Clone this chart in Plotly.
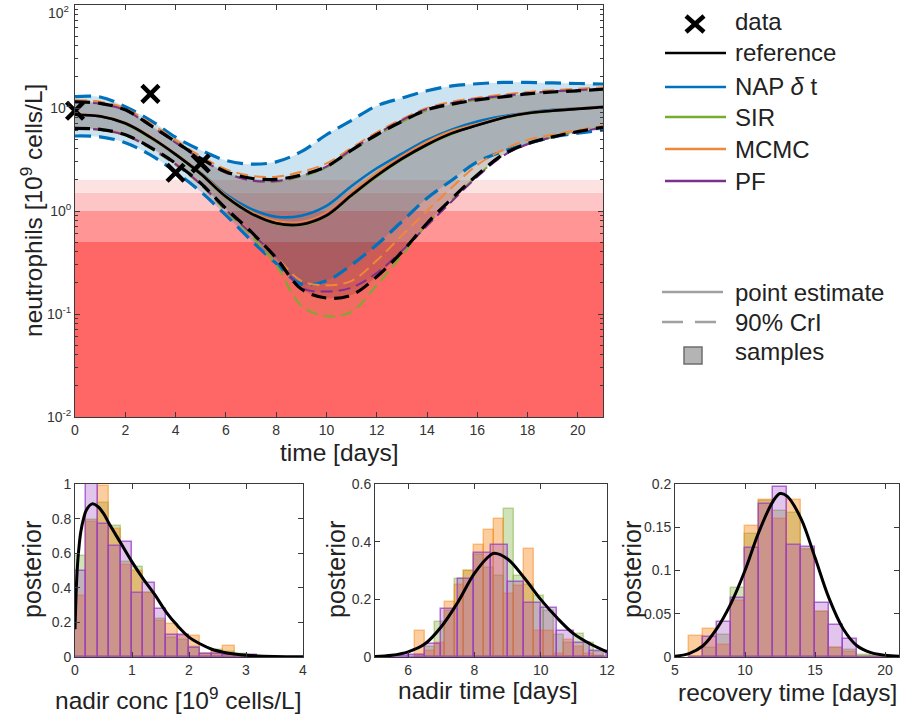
import plotly.graph_objects as go

# ---------------- data ----------------
t_days = list(range(22))
data_t = [0, 3, 4, 5]
data_y = [9.4, 13.7, 2.35, 2.9]

ref_med = [8.6, 8.3, 7.1, 5.2, 3.55, 2.3, 1.38, 0.95, 0.76, 0.74, 0.90, 1.42, 2.2, 3.2, 4.4, 5.7, 6.8, 8.0, 8.9, 9.4, 9.8, 10.2]
ref_lo = [6.35, 6.2, 5.5, 4.15, 2.9, 1.86, 1.06, 0.63, 0.35, 0.175, 0.143, 0.153, 0.23, 0.40, 0.76, 1.33, 2.24, 3.5, 4.5, 5.25, 5.9, 6.5]
ref_hi = [11.5, 11.1, 9.6, 6.8, 4.7, 3.25, 2.41, 2.08, 2.03, 2.24, 2.7, 3.9, 5.5, 7.4, 9.6, 10.9, 12.0, 12.8, 13.7, 14.3, 14.7, 15.2]

nap_med = [8.6, 8.3, 7.1, 5.2, 3.55, 2.35, 1.45, 1.05, 0.88, 0.90, 1.12, 1.75, 2.6, 3.6, 4.9, 6.2, 7.4, 8.3, 9.0, 9.6, 9.9, 10.3]
nap_lo = [5.35, 5.25, 4.6, 3.5, 2.4, 1.54, 0.91, 0.52, 0.31, 0.195, 0.21, 0.30, 0.47, 0.79, 1.33, 2.0, 3.0, 3.77, 4.5, 5.2, 5.7, 6.1]
nap_hi = [12.9, 12.8, 10.3, 7.6, 5.2, 3.9, 3.1, 2.85, 3.0, 3.77, 5.5, 7.6, 10.5, 12.5, 14.7, 16.4, 17.2, 17.7, 17.7, 17.5, 17.3, 17.1]

sir_med = [8.6, 8.3, 7.0, 5.1, 3.5, 2.25, 1.35, 0.93, 0.75, 0.73, 0.89, 1.4, 2.15, 3.15, 4.35, 5.6, 6.8, 7.9, 8.8, 9.3, 9.8, 10.1]
sir_lo = [6.3, 6.1, 5.4, 4.05, 2.8, 1.8, 1.0, 0.58, 0.30, 0.12, 0.095, 0.105, 0.19, 0.37, 0.74, 1.3, 2.2, 3.45, 4.5, 5.2, 5.9, 6.5]
sir_hi = [11.6, 11.2, 9.6, 6.8, 4.7, 3.2, 2.35, 1.98, 1.93, 2.15, 2.65, 3.85, 5.4, 7.3, 9.5, 10.9, 12.0, 12.9, 13.8, 14.4, 14.8, 15.3]

mcmc_med = [8.7, 8.4, 7.2, 5.3, 3.6, 2.35, 1.42, 0.98, 0.8, 0.78, 0.96, 1.52, 2.35, 3.4, 4.7, 6.0, 7.0, 8.1, 9.0, 9.5, 9.9, 10.3]
mcmc_lo = [6.4, 6.2, 5.5, 4.1, 2.9, 1.85, 1.05, 0.62, 0.36, 0.21, 0.19, 0.21, 0.33, 0.58, 1.0, 1.7, 2.8, 3.9, 4.9, 5.5, 6.1, 6.7]
mcmc_hi = [11.9, 11.5, 9.9, 7.1, 4.9, 3.4, 2.55, 2.2, 2.15, 2.4, 2.9, 4.1, 5.8, 7.8, 10.0, 11.5, 12.6, 13.5, 14.3, 14.9, 15.4, 15.8]

pf_med = [8.6, 8.3, 7.1, 5.2, 3.55, 2.28, 1.37, 0.94, 0.76, 0.75, 0.92, 1.45, 2.22, 3.25, 4.45, 5.7, 6.8, 8.0, 8.9, 9.4, 9.8, 10.2]
pf_lo = [6.3, 6.15, 5.45, 4.1, 2.85, 1.82, 1.03, 0.61, 0.36, 0.18, 0.165, 0.18, 0.25, 0.41, 0.72, 1.25, 2.15, 3.4, 4.45, 5.2, 5.85, 6.45]
pf_hi = [11.4, 11.0, 9.5, 6.7, 4.6, 3.2, 2.35, 1.98, 1.95, 2.2, 2.7, 3.95, 5.6, 7.6, 9.8, 11.2, 12.3, 13.1, 13.9, 14.5, 14.9, 15.4]

# neutropenia grade thresholds [10^9 cells/L]
grade_edges = [0.01, 0.5, 1.0, 1.5, 2.0]

main_yticks = [0.01, 0.1, 1, 10, 100]
main_yticktext = ['10<sup>-2</sup>', '10<sup>-1</sup>', '10<sup>0</sup>', '10<sup>1</sup>', '10<sup>2</sup>']

# histogram panel 1: nadir concentration (bins of 0.2 from 0)
h1_start, h1_w = 0.0, 0.2
sir1 = [0.584, 0.79, 0.89, 0.76, 0.55, 0.52, 0.37, 0.22, 0.11, 0.10, 0.06, 0.02, 0.04, 0.03, 0.02, 0.005]
mcmc1 = [0.35, 0.78, 0.99, 0.74, 0.53, 0.50, 0.37, 0.21, 0.19, 0.12, 0.12, 0.02, 0.03, 0.064, 0.01, 0.005]
pf1 = [0.50, 1.0, 0.77, 0.64, 0.667, 0.37, 0.43, 0.28, 0.13, 0.13, 0.05, 0.02, 0.02, 0.01, 0.01, 0.01]
c1x = [0, 0.03, 0.06, 0.1, 0.15, 0.2, 0.3, 0.4, 0.5, 0.6, 0.8, 1.0, 1.2, 1.4, 1.6, 1.8, 2.0, 2.2, 2.4, 2.6, 2.8, 3.0, 3.5, 4.0]
c1y = [0.16, 0.45, 0.6, 0.72, 0.8, 0.85, 0.885, 0.87, 0.83, 0.77, 0.66, 0.55, 0.45, 0.36, 0.26, 0.18, 0.115, 0.075, 0.045, 0.028, 0.017, 0.01, 0.003, 0.001]

# histogram panel 2: nadir time
h2a_start, h2a_w = 6.2, 0.3   # SIR / MCMC bins
h2b_start, h2b_w = 5.5, 0.5   # PF bins
sir2 = [0.006, 0.035, 0.12, 0.16, 0.27, 0.30, 0.355, 0.31, 0.28, 0.515, 0.28, 0.25, 0.21, 0.16, 0.076, 0.047, 0.08, 0.047, 0.017]
mcmc2 = [0.09, 0.02, 0.05, 0.19, 0.25, 0.30, 0.39, 0.44, 0.48, 0.22, 0.245, 0.375, 0.09, 0.09, 0.01, 0.06, 0.035, 0.01, 0.005]
pf2 = [0.004, 0.006, 0.045, 0.165, 0.27, 0.36, 0.39, 0.26, 0.186, 0.17, 0.09, 0.05, 0.02]
c2x = [5, 5.5, 6, 6.5, 7, 7.5, 8, 8.5, 8.6, 9, 9.5, 10, 10.5, 11, 11.5, 12]
c2y = [0.002, 0.006, 0.018, 0.045, 0.105, 0.19, 0.29, 0.355, 0.36, 0.34, 0.275, 0.2, 0.135, 0.08, 0.045, 0.018]

# histogram panel 3: recovery time (bins of 1 from 6)
h3_start, h3_w = 6.0, 1.0
sir3 = [0.0, 0.01, 0.025, 0.08, 0.142, 0.18, 0.169, 0.167, 0.125, 0.052, 0.01, 0.008, 0.002, 0.001]
mcmc3 = [0.0245, 0.032, 0.014, 0.065, 0.151, 0.182, 0.159, 0.182, 0.124, 0.052, 0.01, 0.006, 0.0, 0.0]
pf3 = [0.0, 0.023, 0.04, 0.068, 0.126, 0.177, 0.197, 0.13, 0.127, 0.063, 0.037, 0.021, 0.0, 0.0]
c3x = [5, 6, 7, 8, 9, 10, 11, 12, 12.5, 13, 14, 15, 16, 17, 18, 19, 20, 21]
c3y = [0.001, 0.004, 0.013, 0.033, 0.062, 0.1, 0.145, 0.18, 0.189, 0.186, 0.16, 0.115, 0.068, 0.033, 0.013, 0.005, 0.002, 0.001]

# ---------------- style ----------------
W, H = 902, 721
FONT = 'Liberation Sans, Arial, Helvetica, sans-serif'
AX = '#3a3a3a'
BLUE = '#0072BD'
GREEN = '#77AC30'
ORANGE = '#F0883A'
PURPLE = '#7E2F8E'
grade_colors = ['#FF6666', '#FF9595', '#FDC5C5', '#FDE2E2']


def rgba(hexc, a):
    h = hexc.lstrip('#')
    return 'rgba(%d,%d,%d,%s)' % (int(h[0:2], 16), int(h[2:4], 16), int(h[4:6], 16), a)


def px(x):
    return x / W


def py(y):
    return 1 - y / H


fig = go.Figure()

# threshold bands
xlim = [0, 21]
for i, c in enumerate(grade_colors):
    lo, hi = grade_edges[i], grade_edges[i + 1]
    fig.add_trace(go.Scatter(x=[xlim[0], xlim[1], xlim[1], xlim[0], xlim[0]],
                             y=[lo, lo, hi, hi, lo], mode='lines', fill='toself',
                             fillcolor=c, line=dict(width=0), hoverinfo='skip',
                             showlegend=False, xaxis='x', yaxis='y'))

# name, median, lower, upper, colour, fill alpha, dash width, solid width, dash pattern
methods = [
    ('NAP', nap_med, nap_lo, nap_hi, BLUE, 0.2, 3.2, 2.6, '16px,8px'),
    ('SIR', sir_med, sir_lo, sir_hi, GREEN, 0.08, 2.0, 2.2, '12px,6px'),
    ('MCMC', mcmc_med, mcmc_lo, mcmc_hi, ORANGE, 0.08, 2.0, 2.2, '12px,6px'),
    ('PF', pf_med, pf_lo, pf_hi, PURPLE, 0.08, 2.0, 2.2, '12px,6px'),
    ('ref', ref_med, ref_lo, ref_hi, '#000000', 0.12, 3.2, 2.6, '15px,8px'),
]

# fills
for name, med, lo, hi, col, alpha, dw, sw, dp in methods:
    fig.add_trace(go.Scatter(x=t_days, y=lo, mode='lines', line=dict(width=0, shape='spline'),
                             hoverinfo='skip', showlegend=False, xaxis='x', yaxis='y'))
    fig.add_trace(go.Scatter(x=t_days, y=hi, mode='lines', line=dict(width=0, shape='spline'),
                             fill='tonexty', fillcolor=rgba(col, alpha),
                             hoverinfo='skip', showlegend=False, xaxis='x', yaxis='y'))

# lines
for name, med, lo, hi, col, alpha, dw, sw, dp in methods:
    for arr in (lo, hi):
        fig.add_trace(go.Scatter(x=t_days, y=arr, mode='lines',
                                 line=dict(color=col, width=dw, dash=dp, shape='spline'),
                                 showlegend=False, name=name, xaxis='x', yaxis='y'))
    fig.add_trace(go.Scatter(x=t_days, y=med, mode='lines',
                             line=dict(color=col, width=sw, shape='spline'),
                             showlegend=False, name=name, xaxis='x', yaxis='y'))

fig.add_trace(go.Scatter(x=data_t, y=data_y, mode='markers', cliponaxis=False,
                         marker=dict(symbol='x-thin', size=17, line=dict(width=4.5, color='black')),
                         showlegend=False, name='data', xaxis='x', yaxis='y'))


# histograms
def add_hist(start, w, vals, col, fa, la, xa, ya):
    centers = [start + w * (i + 0.5) for i in range(len(vals))]
    fig.add_trace(go.Bar(x=centers, y=vals, width=w,
                         marker=dict(color=rgba(col, fa), line=dict(color=rgba(col, la), width=1.5)),
                         showlegend=False, xaxis=xa, yaxis=ya))


HPURPLE = '#9A3FC4'
HORANGE = '#F7820F'
for (cx, cy, xa, ya) in [(c1x, c1y, 'x2', 'y2'), (c2x, c2y, 'x3', 'y3'), (c3x, c3y, 'x4', 'y4')]:
    fig.add_trace(go.Scatter(x=cx, y=cy, mode='lines', line=dict(color='black', width=3, shape='spline'),
                             showlegend=False, xaxis=xa, yaxis=ya))

add_hist(h1_start, h1_w, sir1, GREEN, 0.35, 0.45, 'x2', 'y2')
add_hist(h1_start, h1_w, mcmc1, HORANGE, 0.4, 0.45, 'x2', 'y2')
add_hist(h1_start, h1_w, pf1, HPURPLE, 0.3, 0.75, 'x2', 'y2')
add_hist(h2a_start, h2a_w, sir2, GREEN, 0.35, 0.45, 'x3', 'y3')
add_hist(h2a_start, h2a_w, mcmc2, HORANGE, 0.4, 0.45, 'x3', 'y3')
add_hist(h2b_start, h2b_w, pf2, HPURPLE, 0.3, 0.75, 'x3', 'y3')
add_hist(h3_start, h3_w, sir3, GREEN, 0.35, 0.45, 'x4', 'y4')
add_hist(h3_start, h3_w, mcmc3, HORANGE, 0.4, 0.45, 'x4', 'y4')
add_hist(h3_start, h3_w, pf3, HPURPLE, 0.3, 0.75, 'x4', 'y4')


def axstyle(**kw):
    d = dict(showline=True, linecolor=AX, linewidth=1, mirror='ticks', ticks='inside',
             ticklen=5, tickcolor=AX, tickfont=dict(family=FONT, size=14, color='#333333'),
             showgrid=False, zeroline=False, automargin=False, ticklabeloverflow='allow')
    d.update(kw)
    return d


minor_vals = [k * 10.0 ** e for e in range(-2, 2) for k in range(2, 10)]

fig.update_layout(
    width=W, height=H, margin=dict(l=0, r=0, t=0, b=0, autoexpand=False),
    paper_bgcolor='white', plot_bgcolor='white', barmode='overlay', bargap=0,
    font=dict(family=FONT, color='#222222'),
    xaxis=axstyle(domain=[px(75), px(603)], range=xlim, anchor='y', dtick=2, tick0=0),
    yaxis=axstyle(domain=[py(417), py(5)], type='log', range=[-2, 2], anchor='x',
                  tickvals=main_yticks[:-1], ticktext=main_yticktext[:-1],
                  minor=dict(tickvals=minor_vals, ticks='inside', ticklen=3, tickcolor=AX)),
    xaxis2=axstyle(domain=[px(75), px(303)], range=[0, 4], anchor='y2', dtick=1),
    yaxis2=axstyle(domain=[py(657), py(484)], range=[0, 1], anchor='x2', dtick=0.2),
    xaxis3=axstyle(domain=[px(375), px(607)], range=[5, 12], anchor='y3', tickvals=[6, 8, 10, 12]),
    yaxis3=axstyle(domain=[py(657), py(484)], range=[0, 0.6], anchor='x3', dtick=0.2),
    xaxis4=axstyle(domain=[px(675), px(899)], range=[5, 21], anchor='y4', tickvals=[5, 10, 15, 20]),
    yaxis4=axstyle(domain=[py(657), py(484)], range=[0, 0.2], anchor='x4', dtick=0.05),
)

ann = []


def text(x, y, s, angle=0, xanchor='center', size=24.5, color='#222222'):
    ann.append(dict(x=px(x), y=py(y), xref='paper', yref='paper', text=s, showarrow=False,
                    textangle=angle, xanchor=xanchor, yanchor='middle',
                    font=dict(family=FONT, size=size, color=color)))


# top tick label of the log axis (placed just inside the page)
text(71, 12, main_yticktext[-1], xanchor='right', size=14, color='#333333')

text(339, 452, 'time [days]')
text(31, 211, 'neutrophils [10<sup>9</sup> cells/L]', angle=-90)
text(178, 698, 'nadir conc [10<sup>9</sup> cells/L]')
text(488, 690, 'nadir time [days]')
text(787, 692, 'recovery time [days]')
text(32, 570, 'posterior', angle=-90, size=25)
text(336, 570, 'posterior', angle=-90, size=25)
text(632, 570, 'posterior', angle=-90, size=25)

# legend
leg_rows = [('data', 22), ('reference', 53), ('NAP <i>δ</i> t', 87), ('SIR', 117), ('MCMC', 149), ('PF', 181),
            ('point estimate', 292), ('90% CrI', 322), ('samples', 351)]
for s, y in leg_rows:
    text(733, y, s, xanchor='left', size=24)

shapes = []
for y, c in [(53, 'black'), (87, BLUE), (117, GREEN), (149, ORANGE), (181, PURPLE)]:
    shapes.append(dict(type='line', xref='paper', yref='paper', x0=px(665), x1=px(726), y0=py(y), y1=py(y),
                       line=dict(color=c, width=2.5)))
shapes.append(dict(type='line', xref='paper', yref='paper', x0=px(686), x1=px(704), y0=py(16), y1=py(32),
                   line=dict(color='black', width=4.5)))
shapes.append(dict(type='line', xref='paper', yref='paper', x0=px(686), x1=px(704), y0=py(32), y1=py(16),
                   line=dict(color='black', width=4.5)))
shapes.append(dict(type='line', xref='paper', yref='paper', x0=px(662), x1=px(723), y0=py(292), y1=py(292),
                   line=dict(color='#A0A0A0', width=2.5)))
shapes.append(dict(type='line', xref='paper', yref='paper', x0=px(662), x1=px(723), y0=py(322), y1=py(322),
                   line=dict(color='#A0A0A0', width=2.5, dash='21px,12px')))
shapes.append(dict(type='rect', xref='paper', yref='paper', x0=px(684), x1=px(702), y0=py(364), y1=py(347),
                   fillcolor='#B4B4B4', line=dict(color='#6E6E6E', width=1.5)))

fig.update_layout(annotations=ann, shapes=shapes)
fig.write_html('out.html', config={'displayModeBar': False},
               post_script="document.body.style.margin='0';document.body.style.overflow='hidden';")
